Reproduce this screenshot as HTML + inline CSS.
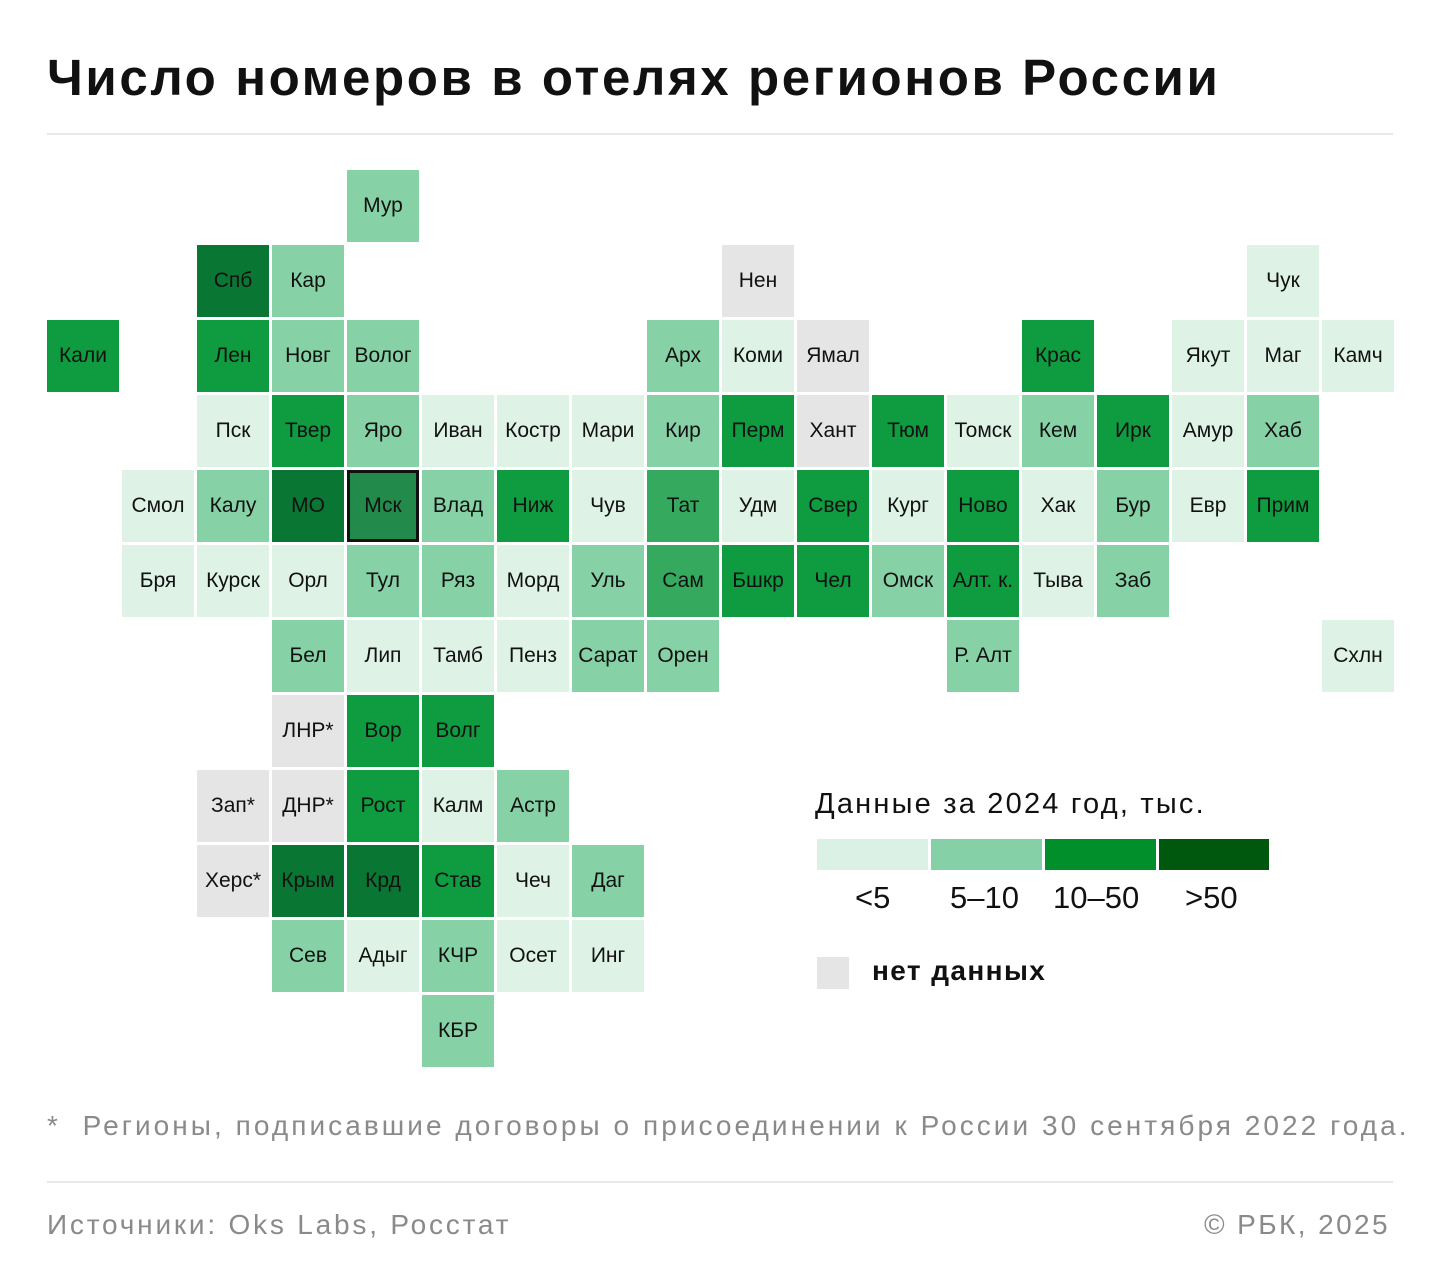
<!DOCTYPE html>
<html><head><meta charset="utf-8"><style>
body{margin:0;width:1440px;height:1285px;background:#fff;position:relative;overflow:hidden;font-family:"Liberation Sans","DejaVu Sans",sans-serif}
.t{position:absolute;left:47px;top:48px;font-size:51px;font-weight:bold;color:#111;letter-spacing:2.6px}
.hr{position:absolute;left:47px;width:1346px;height:2px;background:#e8e8e8}
.c{position:absolute;width:72px;height:72px;display:flex;align-items:center;justify-content:center;font-size:21px;color:#111;letter-spacing:0;white-space:nowrap}
.l{background:#dff2e6}.m{background:#87d1a7}.d{background:#0f9b40}.x{background:#0a7633}.g{background:#e5e5e5}.i{background:#35aa5e}
.gray{position:absolute;color:#8a8a8a;font-size:28px}
</style></head><body>
<div class="t">Число номеров в отелях регионов России</div>
<div class="hr" style="top:133px"></div>

<div class="c m" style="left:347px;top:170px">Мур</div>

<div class="c x" style="left:197px;top:245px">Спб</div>
<div class="c m" style="left:272px;top:245px">Кар</div>
<div class="c g" style="left:722px;top:245px">Нен</div>
<div class="c l" style="left:1247px;top:245px">Чук</div>

<div class="c d" style="left:47px;top:320px">Кали</div>
<div class="c d" style="left:197px;top:320px">Лен</div>
<div class="c m" style="left:272px;top:320px">Новг</div>
<div class="c m" style="left:347px;top:320px">Волог</div>
<div class="c m" style="left:647px;top:320px">Арх</div>
<div class="c l" style="left:722px;top:320px">Коми</div>
<div class="c g" style="left:797px;top:320px">Ямал</div>
<div class="c d" style="left:1022px;top:320px">Крас</div>
<div class="c l" style="left:1172px;top:320px">Якут</div>
<div class="c l" style="left:1247px;top:320px">Маг</div>
<div class="c l" style="left:1322px;top:320px">Камч</div>

<div class="c l" style="left:197px;top:395px">Пск</div>
<div class="c d" style="left:272px;top:395px">Твер</div>
<div class="c m" style="left:347px;top:395px">Яро</div>
<div class="c l" style="left:422px;top:395px">Иван</div>
<div class="c l" style="left:497px;top:395px">Костр</div>
<div class="c l" style="left:572px;top:395px">Мари</div>
<div class="c m" style="left:647px;top:395px">Кир</div>
<div class="c d" style="left:722px;top:395px">Перм</div>
<div class="c g" style="left:797px;top:395px">Хант</div>
<div class="c d" style="left:872px;top:395px">Тюм</div>
<div class="c l" style="left:947px;top:395px">Томск</div>
<div class="c m" style="left:1022px;top:395px">Кем</div>
<div class="c d" style="left:1097px;top:395px">Ирк</div>
<div class="c l" style="left:1172px;top:395px">Амур</div>
<div class="c m" style="left:1247px;top:395px">Хаб</div>

<div class="c l" style="left:122px;top:470px">Смол</div>
<div class="c m" style="left:197px;top:470px">Калу</div>
<div class="c x" style="left:272px;top:470px">МО</div>
<div class="c" style="left:347px;top:470px;background:#228a4a;box-sizing:border-box;border:3px solid #111">Мск</div>
<div class="c m" style="left:422px;top:470px">Влад</div>
<div class="c d" style="left:497px;top:470px">Ниж</div>
<div class="c l" style="left:572px;top:470px">Чув</div>
<div class="c i" style="left:647px;top:470px">Тат</div>
<div class="c l" style="left:722px;top:470px">Удм</div>
<div class="c d" style="left:797px;top:470px">Свер</div>
<div class="c l" style="left:872px;top:470px">Кург</div>
<div class="c d" style="left:947px;top:470px">Ново</div>
<div class="c l" style="left:1022px;top:470px">Хак</div>
<div class="c m" style="left:1097px;top:470px">Бур</div>
<div class="c l" style="left:1172px;top:470px">Евр</div>
<div class="c d" style="left:1247px;top:470px">Прим</div>

<div class="c l" style="left:122px;top:545px">Бря</div>
<div class="c l" style="left:197px;top:545px">Курск</div>
<div class="c l" style="left:272px;top:545px">Орл</div>
<div class="c m" style="left:347px;top:545px">Тул</div>
<div class="c m" style="left:422px;top:545px">Ряз</div>
<div class="c l" style="left:497px;top:545px">Морд</div>
<div class="c m" style="left:572px;top:545px">Уль</div>
<div class="c i" style="left:647px;top:545px">Сам</div>
<div class="c d" style="left:722px;top:545px">Бшкр</div>
<div class="c d" style="left:797px;top:545px">Чел</div>
<div class="c m" style="left:872px;top:545px">Омск</div>
<div class="c d" style="left:947px;top:545px">Алт. к.</div>
<div class="c l" style="left:1022px;top:545px">Тыва</div>
<div class="c m" style="left:1097px;top:545px">Заб</div>

<div class="c m" style="left:272px;top:620px">Бел</div>
<div class="c l" style="left:347px;top:620px">Лип</div>
<div class="c l" style="left:422px;top:620px">Тамб</div>
<div class="c l" style="left:497px;top:620px">Пенз</div>
<div class="c m" style="left:572px;top:620px">Сарат</div>
<div class="c m" style="left:647px;top:620px">Орен</div>
<div class="c m" style="left:947px;top:620px">Р. Алт</div>
<div class="c l" style="left:1322px;top:620px">Схлн</div>

<div class="c g" style="left:272px;top:695px">ЛНР*</div>
<div class="c d" style="left:347px;top:695px">Вор</div>
<div class="c d" style="left:422px;top:695px">Волг</div>

<div class="c g" style="left:197px;top:770px">Зап*</div>
<div class="c g" style="left:272px;top:770px">ДНР*</div>
<div class="c d" style="left:347px;top:770px">Рост</div>
<div class="c l" style="left:422px;top:770px">Калм</div>
<div class="c m" style="left:497px;top:770px">Астр</div>

<div class="c g" style="left:197px;top:845px">Херс*</div>
<div class="c x" style="left:272px;top:845px">Крым</div>
<div class="c x" style="left:347px;top:845px">Крд</div>
<div class="c d" style="left:422px;top:845px">Став</div>
<div class="c l" style="left:497px;top:845px">Чеч</div>
<div class="c m" style="left:572px;top:845px">Даг</div>

<div class="c m" style="left:272px;top:920px">Сев</div>
<div class="c l" style="left:347px;top:920px">Адыг</div>
<div class="c m" style="left:422px;top:920px">КЧР</div>
<div class="c l" style="left:497px;top:920px">Осет</div>
<div class="c l" style="left:572px;top:920px">Инг</div>

<div class="c m" style="left:422px;top:995px">КБР</div>

<div style="position:absolute;left:815px;top:788px;font-size:29px;color:#111;letter-spacing:2.2px">Данные за 2024 год, тыс.</div>
<div style="position:absolute;left:817px;top:839px;width:111px;height:31px;background:#dcf1e6"></div>
<div style="position:absolute;left:931px;top:839px;width:111px;height:31px;background:#86d0a8"></div>
<div style="position:absolute;left:1045px;top:839px;width:111px;height:31px;background:#008f2a"></div>
<div style="position:absolute;left:1159px;top:839px;width:110px;height:31px;background:#00580e"></div>
<div style="position:absolute;top:880px;left:855px;font-size:31px;color:#111">&lt;5</div>
<div style="position:absolute;top:880px;left:950px;font-size:31px;color:#111">5–10</div>
<div style="position:absolute;top:880px;left:1053px;font-size:31px;color:#111">10–50</div>
<div style="position:absolute;top:880px;left:1185px;font-size:31px;color:#111">&gt;50</div>
<div style="position:absolute;left:817px;top:957px;width:32px;height:32px;background:#e5e5e5"></div>
<div style="position:absolute;left:872px;top:955px;font-size:28px;font-weight:bold;color:#111;letter-spacing:1.4px">нет данных</div>

<div class="gray" style="left:47px;top:1110px;letter-spacing:3.05px">*&nbsp; Регионы, подписавшие договоры о присоединении к России 30 сентября 2022 года.</div>
<div class="hr" style="top:1181px"></div>
<div class="gray" style="left:47px;top:1209px;letter-spacing:2.8px">Источники: Oks Labs, Росстат</div>
<div class="gray" style="right:50px;top:1209px;letter-spacing:2.4px">© РБК, 2025</div>
</body></html>
